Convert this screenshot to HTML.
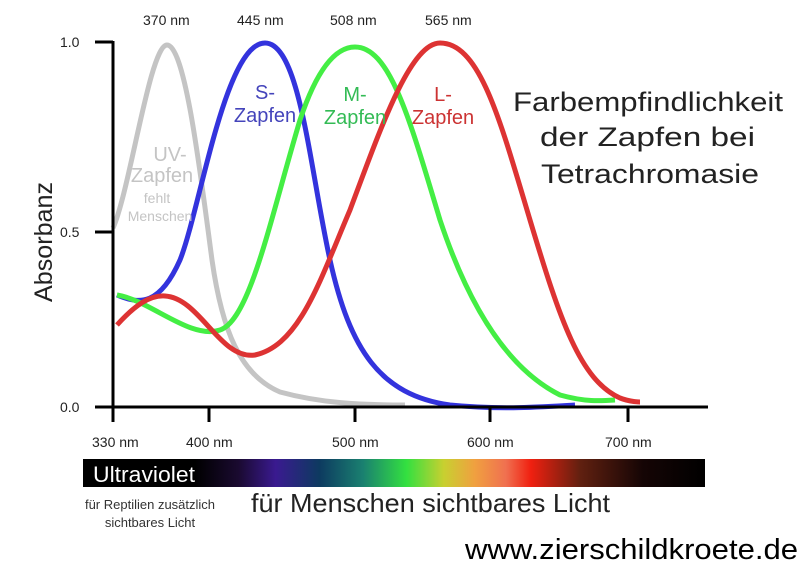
<!DOCTYPE html>
<html><head><meta charset="utf-8"><style>body{margin:0;background:#fff}svg{display:block}text{font-family:"Liberation Sans",sans-serif}</style></head><body>
<svg width="800" height="561" viewBox="0 0 800 561">
<defs><linearGradient id="sp" x1="0" x2="1">
<stop offset="0" stop-color="#000"/><stop offset="0.18" stop-color="#000"/><stop offset="0.25" stop-color="#1a0a30"/><stop offset="0.31" stop-color="#3a1a90"/><stop offset="0.38" stop-color="#0d3a60"/><stop offset="0.45" stop-color="#1a8070"/><stop offset="0.52" stop-color="#33e040"/><stop offset="0.58" stop-color="#c8d030"/><stop offset="0.63" stop-color="#f0a040"/><stop offset="0.68" stop-color="#f07050"/><stop offset="0.72" stop-color="#f02010"/><stop offset="0.8" stop-color="#602010"/><stop offset="0.9" stop-color="#150505"/><stop offset="1" stop-color="#000"/></linearGradient></defs>
<g fill="none" stroke-width="5" stroke-linejoin="round" stroke-linecap="butt">
<path stroke="#c4c4c4" d="M113,228 C130,190 150,45 167,45 C185,45 200,170 212,260 C222,330 240,375 280,392 C320,403 360,405 405,405"/>
<path stroke="#3333dd" d="M117,295 C140,305 160,305 180,260 C200,210 225,43 265,43 C300,43 310,170 330,260 C350,350 380,395 450,405 C500,410 540,407 575,405"/>
<path stroke="#44ee44" d="M117,295 C150,300 190,340 220,330 C250,320 270,220 300,120 C320,60 340,47 355,47 C390,47 410,120 440,220 C470,310 510,370 560,395 C585,402 600,401 615,400"/>
<path stroke="#dd3333" d="M117,325 C135,305 150,295 165,296 C200,298 220,360 255,355 C300,345 320,280 350,210 C380,130 410,43 440,43 C480,43 500,120 530,220 C560,320 580,380 620,398 C630,402 640,402 640,402"/>
</g>
<g stroke="#000" stroke-width="3">
<line x1="113" y1="41" x2="113" y2="422"/><line x1="95" y1="42" x2="113" y2="42"/><line x1="95" y1="232" x2="113" y2="232"/><line x1="95" y1="407" x2="708" y2="407"/>
<line x1="209" y1="407" x2="209" y2="422"/><line x1="355" y1="407" x2="355" y2="422"/><line x1="490" y1="407" x2="490" y2="422"/><line x1="628" y1="407" x2="628" y2="422"/>
</g>
<g font-size="14" fill="#222">
<text x="60" y="47">1.0</text><text x="60" y="237">0.5</text><text x="60" y="412">0.0</text>
<text x="92" y="447">330 nm</text><text x="186" y="447">400 nm</text><text x="332" y="447">500 nm</text><text x="467" y="447">600 nm</text><text x="605" y="447">700 nm</text>
<text x="143" y="25">370 nm</text><text x="237" y="25">445 nm</text><text x="330" y="25">508 nm</text><text x="425" y="25">565 nm</text>
</g>
<text transform="translate(52,302) rotate(-90)" font-size="25" fill="#222" textLength="120" lengthAdjust="spacingAndGlyphs">Absorbanz</text>
<g font-size="20" text-anchor="middle">
<text x="265" y="99" fill="#4444bb">S-</text><text x="265" y="122" fill="#4444bb">Zapfen</text>
<text x="355" y="101" fill="#33bb55">M-</text><text x="355" y="124" fill="#33bb55">Zapfen</text>
<text x="443" y="101" fill="#cc3333">L-</text><text x="443" y="124" fill="#cc3333">Zapfen</text>
<text x="170" y="161" fill="#c4c4c4">UV-</text><text x="162" y="182" fill="#c4c4c4">Zapfen</text>
</g>
<g font-size="14" fill="#c4c4c4" text-anchor="middle"><text x="157" y="203">fehlt</text><text x="160" y="221">Menschen</text></g>
<g font-size="27" fill="#222">
<text x="513" y="111" textLength="270" lengthAdjust="spacingAndGlyphs">Farbempfindlichkeit</text>
<text x="540" y="146" textLength="215" lengthAdjust="spacingAndGlyphs">der Zapfen bei</text>
<text x="541" y="183" textLength="218" lengthAdjust="spacingAndGlyphs">Tetrachromasie</text></g>
<rect x="83" y="459" width="622" height="28" fill="url(#sp)"/>
<text x="93" y="482" font-size="22" fill="#fff" textLength="102" lengthAdjust="spacingAndGlyphs">Ultraviolet</text>
<g font-size="13" fill="#333" text-anchor="middle"><text x="150" y="509">für Reptilien zusätzlich</text><text x="150" y="527">sichtbares Licht</text></g>
<text x="251" y="512" font-size="26" fill="#222" textLength="359" lengthAdjust="spacingAndGlyphs">für Menschen sichtbares Licht</text>
<text x="465" y="559" font-size="29" fill="#000" textLength="333" lengthAdjust="spacingAndGlyphs">www.zierschildkroete.de</text>
</svg>
</body></html>
